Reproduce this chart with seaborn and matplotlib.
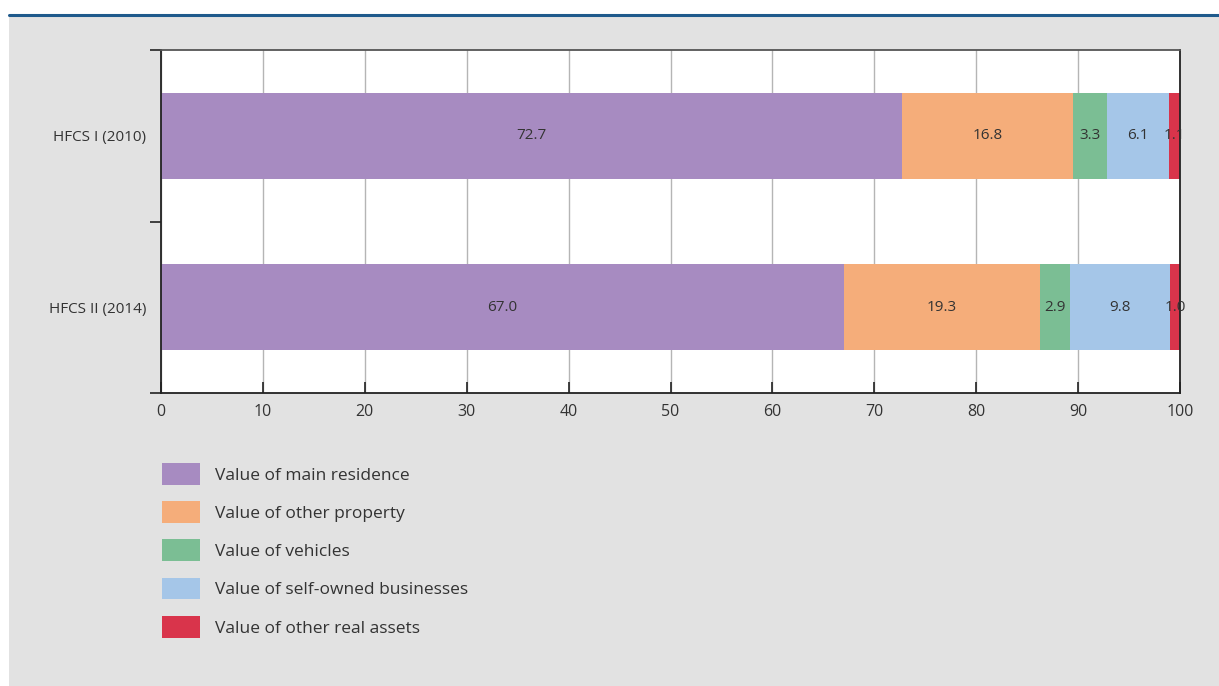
import matplotlib
matplotlib.use("Agg")
import matplotlib.pyplot as plt
from matplotlib.patches import Rectangle, Patch
from matplotlib.lines import Line2D
import seaborn as sns
import pandas as pd
import numpy as np

categories = ["HFCS I (2010)", "HFCS II (2014)"]
components = ["Value of main residence", "Value of other property", "Value of vehicles",
              "Value of self-owned businesses", "Value of other real assets"]
main_residence = [72.7, 67.0]
other_property = [16.8, 19.3]
vehicles = [3.3, 2.9]
businesses = [6.1, 9.8]
other_real = [1.1, 1.0]
colors = ["#A78BC1", "#F5AD7A", "#7BBE94", "#A5C6E8", "#D9344B"]

sns.set_theme(style="white")
plt.rcParams['font.family'] = ['Open Sans', 'DejaVu Sans']
text_color = "#333333"

series = [main_residence, other_property, vehicles, businesses, other_real]
vals = np.array(series)
cum = np.cumsum(vals, axis=0)

fig = plt.figure(figsize=(12.19, 6.86), dpi=100)
fig.patch.set_facecolor("white")
fig.patches.append(Rectangle((9/1219, 0), 1 - 9/1219, 1 - 16/686, transform=fig.transFigure,
                             facecolor="#E2E2E2", edgecolor="none", zorder=-10))
fig.lines.append(Line2D([9/1219, 1], [1 - 15/686, 1 - 15/686], transform=fig.transFigure,
                        color="#1F5A8C", linewidth=2.2))

ax = fig.add_axes([161/1219, 1 - 393/686, 1019/1219, 343/686])
ax.set_facecolor("white")

# draw stacked bars: largest cumulative first so smaller ones overlay
for i in range(len(series) - 1, -1, -1):
    df = pd.DataFrame({"category": categories, "value": cum[i]})
    sns.barplot(data=df, x="value", y="category", orient="h", color=colors[i],
                width=0.5, ax=ax, saturation=1, edgecolor="none", linewidth=0, zorder=2)

for i in range(len(series)):
    for j, cat in enumerate(categories):
        center = cum[i][j] - vals[i][j] / 2
        ax.text(center, j, f"{vals[i][j]:.1f}", ha="center", va="center",
                fontsize=11, color=text_color, zorder=5)

ax.set_xlim(0, 100)
ax.set_ylim(1.5, -0.5)
ax.set_xticks(np.arange(0, 101, 10))
ax.set_xticklabels([str(v) for v in range(0, 101, 10)], fontsize=11.5, color=text_color)
ax.set_yticks([0, 1])
ax.set_yticklabels(categories, fontsize=11, color=text_color)
ax.set_yticks([-0.5, 0.5, 1.5], minor=True)
ax.tick_params(axis="y", which="major", left=False, length=0, pad=10.5)
ax.tick_params(axis="y", which="minor", left=True, length=8, width=1.2, color="#222222", direction="out")
ax.tick_params(axis="x", which="major", bottom=True, length=8, width=1.2, color="#222222", direction="in", pad=8)
ax.set_xlabel("")
ax.set_ylabel("")
ax.grid(axis="x", color="#B5B5B5", linewidth=1, zorder=0)
ax.set_axisbelow(True)
for s in ["left", "bottom", "right"]:
    ax.spines[s].set_visible(True)
    ax.spines[s].set_color("#222222")
    ax.spines[s].set_linewidth(1.3)
ax.spines["top"].set_visible(True)
ax.spines["top"].set_color("#555555")
ax.spines["top"].set_linewidth(1.3)

handles = [Patch(facecolor=c, edgecolor="none") for c in colors]
leg = fig.legend(handles, components, loc="upper left",
                 bbox_to_anchor=(162/1219, 1 - 463/686), frameon=False,
                 fontsize=12.5, handlelength=2.17, handleheight=1.55,
                 labelspacing=0.95, handletextpad=0.88, borderaxespad=0, borderpad=0)
for t in leg.get_texts():
    t.set_color(text_color)

fig.savefig("out.png", dpi=100)
